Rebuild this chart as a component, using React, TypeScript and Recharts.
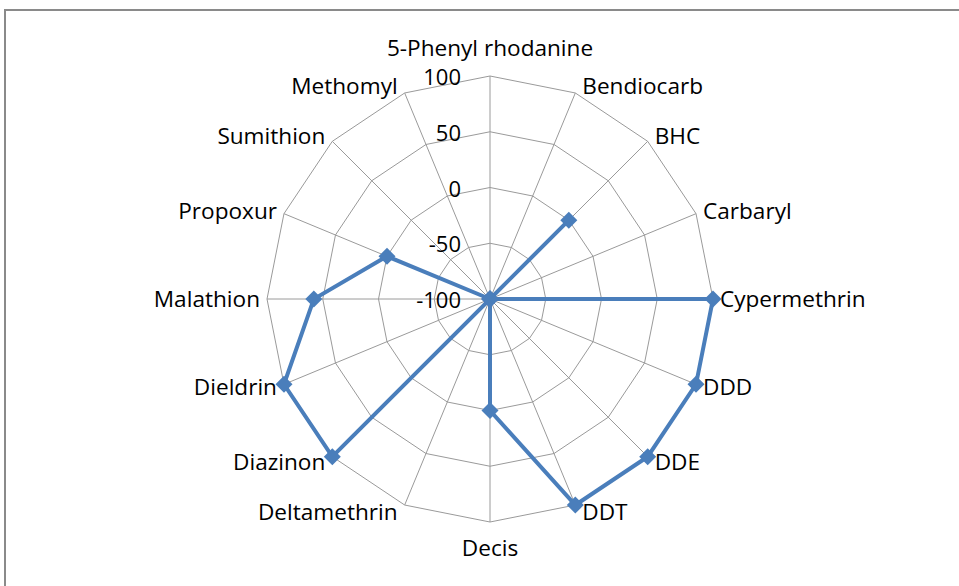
import React from "react";
import {
  RadarChart,
  PolarGrid,
  PolarAngleAxis,
  PolarRadiusAxis,
  Radar,
} from "recharts";

const categories = [
  "5-Phenyl rhodanine",
  "Bendiocarb",
  "BHC",
  "Carbaryl",
  "Cypermethrin",
  "DDD",
  "DDE",
  "DDT",
  "Decis",
  "Deltamethrin",
  "Diazinon",
  "Dieldrin",
  "Malathion",
  "Propoxur",
  "Sumithion",
  "Methomyl",
];

const seriesValues = [
  -100, -100, 0, -100, 100, 100, 100, 100, 0, -100, 100, 100, 58, 0, -100, -100,
];

const radiusTicks = [-100, -50, 0, 50, 100];

const data = categories.map((name, i) => ({ name, value: seriesValues[i] }));

const FONT = "'Open Sans', sans-serif";
const BLUE = "#4A7EBB";
const TICK_GAP = 8; // recharts puts the tick point this far past the outer ring

function AngleTick(props: any) {
  const { x, y, payload } = props;
  const theta = ((90 - payload.coordinate) * Math.PI) / 180;
  const s = Math.sin(theta);
  const c = Math.cos(theta);
  // back to the ring vertex
  const vx = x - TICK_GAP * s;
  const vy = y + TICK_GAP * c;
  let anchor: "start" | "end" | "middle" = "middle";
  let tx = vx;
  let mid = vy;
  if (Math.abs(s) < 0.01) {
    mid = vy - c * (c > 0 ? 28 : 26);
  } else {
    anchor = s > 0 ? "start" : "end";
    tx = vx + (s > 0 ? 7 : -7);
    mid = vy - c * 8;
  }
  return (
    <text
      x={tx}
      y={mid + 8}
      textAnchor={anchor}
      fontFamily={FONT}
      fontSize={22.6}
      fill="#000"
    >
      {payload.value}
    </text>
  );
}

function RadiusTick(props: any) {
  const { x, y, payload } = props;
  return (
    <text
      x={x - 29}
      y={y + 9}
      textAnchor="end"
      fontFamily={FONT}
      fontSize={22}
      fill="#000"
    >
      {payload.value}
    </text>
  );
}

function Diamond(props: any) {
  const { cx, cy } = props;
  const r = 8.5;
  return (
    <path
      d={`M${cx},${cy - r}L${cx + r},${cy}L${cx},${cy + r}L${cx - r},${cy}Z`}
      fill={BLUE}
    />
  );
}

export default function App() {
  return (
    <div
      style={{
        position: "absolute",
        left: 0,
        top: 0,
        width: 959,
        height: 586,
        overflow: "hidden",
        background: "#fff",
      }}
    >
      <div
        style={{
          position: "absolute",
          left: 4,
          top: 9,
          width: 1000,
          height: 1000,
          border: "2px solid #8a8a8a",
        }}
      />
      <div style={{ position: "absolute", left: 0, top: 0 }}>
        <RadarChart
          width={959}
          height={586}
          data={data}
          cx={490}
          cy={299}
          outerRadius={223}
          margin={{ top: 0, right: 0, bottom: 0, left: 0 }}
        >
          <PolarGrid gridType="polygon" stroke="#9a9a9a" strokeWidth={1} />
          <PolarAngleAxis
            dataKey="name"
            tick={<AngleTick />}
            tickLine={false}
            axisLine={false}
          />
          <PolarRadiusAxis
            angle={90}
            type="number"
            domain={[-100, 100]}
            ticks={radiusTicks as any}
            tickCount={5}
            axisLine={false}
            tick={<RadiusTick />}
          />
          <Radar
            dataKey="value"
            stroke={BLUE}
            strokeWidth={4}
            fill="none"
            fillOpacity={0}
            dot={<Diamond />}
            isAnimationActive={false}
          />
        </RadarChart>
      </div>
    </div>
  );
}
